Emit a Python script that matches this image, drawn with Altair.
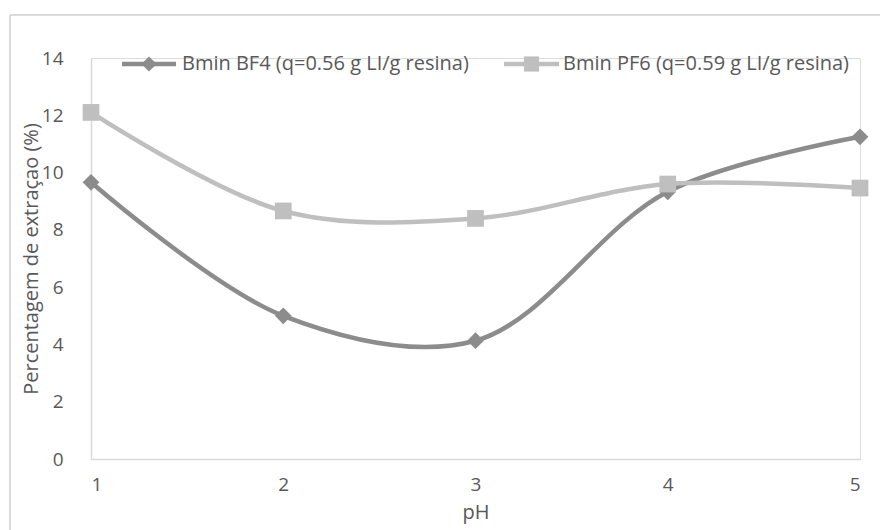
import altair as alt
import pandas as pd

ph = [1, 2, 3, 4, 5]
bf4 = [9.66, 5.00, 4.13, 9.33, 11.25]
pf6 = [12.10, 8.66, 8.40, 9.60, 9.46]
series_names = ["Bmin BF4 (q=0.56 g LI/g resina)", "Bmin PF6 (q=0.59 g LI/g resina)"]
colors = ["#8c8c8c", "#bfbfbf"]
shapes = ["diamond", "square"]

rows = []
for name, vals in zip(series_names, [bf4, pf6]):
    for p, v in zip(ph, vals):
        rows.append({"pH": p, "val": v, "series": name})
df = pd.DataFrame(rows)
legend_df = pd.DataFrame({"series": series_names})

FONT = "Open Sans"
TXT = "#595959"
FS = 19
FS_T = 20

x = alt.X("pH:Q", title="pH",
          scale=alt.Scale(domain=[1, 5], nice=False, zero=False),
          axis=alt.Axis(values=ph, format="d", grid=False, ticks=False,
                        domainColor="#d9d9d9", domainWidth=1.5,
                        labelPadding=16, labelFontSize=FS, labelColor=TXT,
                        labelFont=FONT, titleFont=FONT, titleFontSize=FS_T,
                        titleColor=TXT, titleFontWeight="normal", titlePadding=8))
y = alt.Y("val:Q", title="Percentagem de extraçao (%)",
          scale=alt.Scale(domain=[0, 14], nice=False),
          axis=alt.Axis(values=[0, 2, 4, 6, 8, 10, 12, 14], grid=False, ticks=False,
                        domainColor="#d9d9d9", domainWidth=1.5,
                        labelPadding=28, labelFontSize=FS, labelColor=TXT,
                        labelFont=FONT, titleFont=FONT, titleFontSize=FS_T,
                        titleColor=TXT, titleFontWeight="normal", titlePadding=0))

color_scale = alt.Scale(domain=series_names, range=colors)
shape_scale = alt.Scale(domain=series_names, range=shapes)

base = alt.Chart(df)

lines = base.mark_line(interpolate="catmull-rom", strokeWidth=4.5).encode(
    x=x, y=y,
    color=alt.Color("series:N", scale=color_scale, legend=None),
)

points = base.mark_point(filled=True, size=280, opacity=1, strokeWidth=0).encode(
    x=x, y=y,
    color=alt.Color("series:N", scale=color_scale, legend=None),
    shape=alt.Shape("series:N", scale=shape_scale, legend=None),
)

# manual legend (line + marker + label), positioned in pixels
leg_layers = []
leg_pos = [(31, 85, 91), (413, 468, 472)]
for name, col, shp, (x0, x1, xt) in zip(series_names, colors, shapes, leg_pos):
    src = alt.Chart(legend_df).transform_filter(alt.datum.series == name)
    leg_layers.append(src.mark_rule(color=col, strokeWidth=4.5).encode(
        x=alt.value(x0), x2=alt.value(x1), y=alt.value(6)))
    leg_layers.append(src.mark_point(filled=True, shape=shp, size=230, color=col,
                                     opacity=1, strokeWidth=0).encode(
        x=alt.value((x0 + x1) / 2), y=alt.value(6)))
    leg_layers.append(src.mark_text(align="left", baseline="middle", font=FONT,
                                    fontSize=FS_T, color=TXT).encode(
        x=alt.value(xt), y=alt.value(6), text="series:N"))

border_left = alt.Chart(legend_df).mark_rule(color="#d9d9d9", strokeWidth=1.5).encode(
    x=alt.value(-81), y=alt.value(-43), y2=alt.value(520))
border_top = alt.Chart(legend_df).mark_rule(color="#d9d9d9", strokeWidth=1.5).encode(
    x=alt.value(-81), x2=alt.value(820), y=alt.value(-43))

chart = alt.layer(border_left, border_top, lines, points, *leg_layers).properties(
    width=769, height=401,
    autosize=alt.AutoSizeParams(type="none"),
    padding={"left": 91, "top": 58, "right": 20, "bottom": 71},
).configure_view(stroke=None).configure(background="white")

chart.save("out.html", embed_options={"renderer": "svg", "actions": False})
